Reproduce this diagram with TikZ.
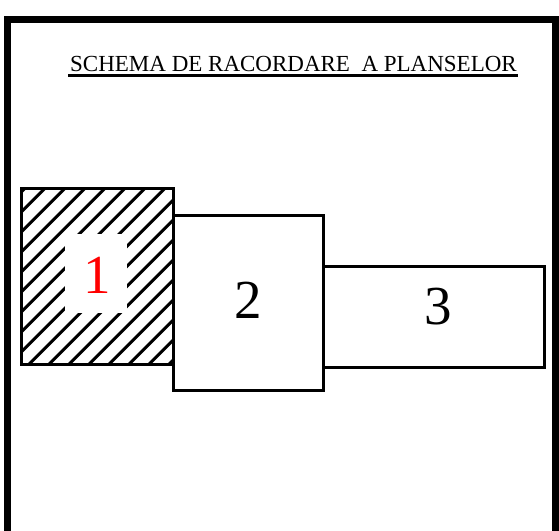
\documentclass[tikz,border=0pt]{standalone}
\usepackage{fontspec}
\setmainfont{Liberation Serif}
\begin{document}
\begin{tikzpicture}[x=1pt,y=-1pt,
  panel/.style={draw=black,line width=3pt,line join=miter},
  numlabel/.style={font=\fontsize{55}{60}\selectfont,inner sep=0pt},
  hatchline/.style={line width=3pt}]
\useasboundingbox (0,0) rectangle (559,530);
% outer frame (open at bottom)
\draw[line width=6.5pt,line join=miter] (7.5,540) -- (7.5,19.5) -- (555.5,19.5) -- (555.5,540);
% title
\node[anchor=base,inner sep=0pt,font=\fontsize{23}{27}\selectfont] (title) at (293.5,71.7) {SCHEMA DE RACORDARE\ \ A PLANSELOR};
\draw[line width=2.7pt] (68,75.8) -- (518,75.8);
% panel 1 hatching
\begin{scope}
  \clip (21.7,188.3) rectangle (173.3,364);
  \foreach \c in {5,25,...,405} {
    \draw[hatchline] (\c-200,388.3) -- (\c,188.3);
  }
\end{scope}
\node[fill=white,minimum width=62pt,minimum height=79pt,inner sep=0pt] (gap) at (96,273.5) {};
\draw[panel] (21.7,188.3) rectangle (173.3,364);
\node[numlabel,text=red] (n1) at (97,275.5) {1};
% panel 2
\draw[panel] (173.3,215.7) rectangle (323.3,390);
\node[numlabel] (n2) at (248,300.5) {2};
% panel 3
\draw[panel] (323.3,266.7) rectangle (544,367.3);
\node[numlabel] (n3) at (438,307) {3};
\end{tikzpicture}
\end{document}
